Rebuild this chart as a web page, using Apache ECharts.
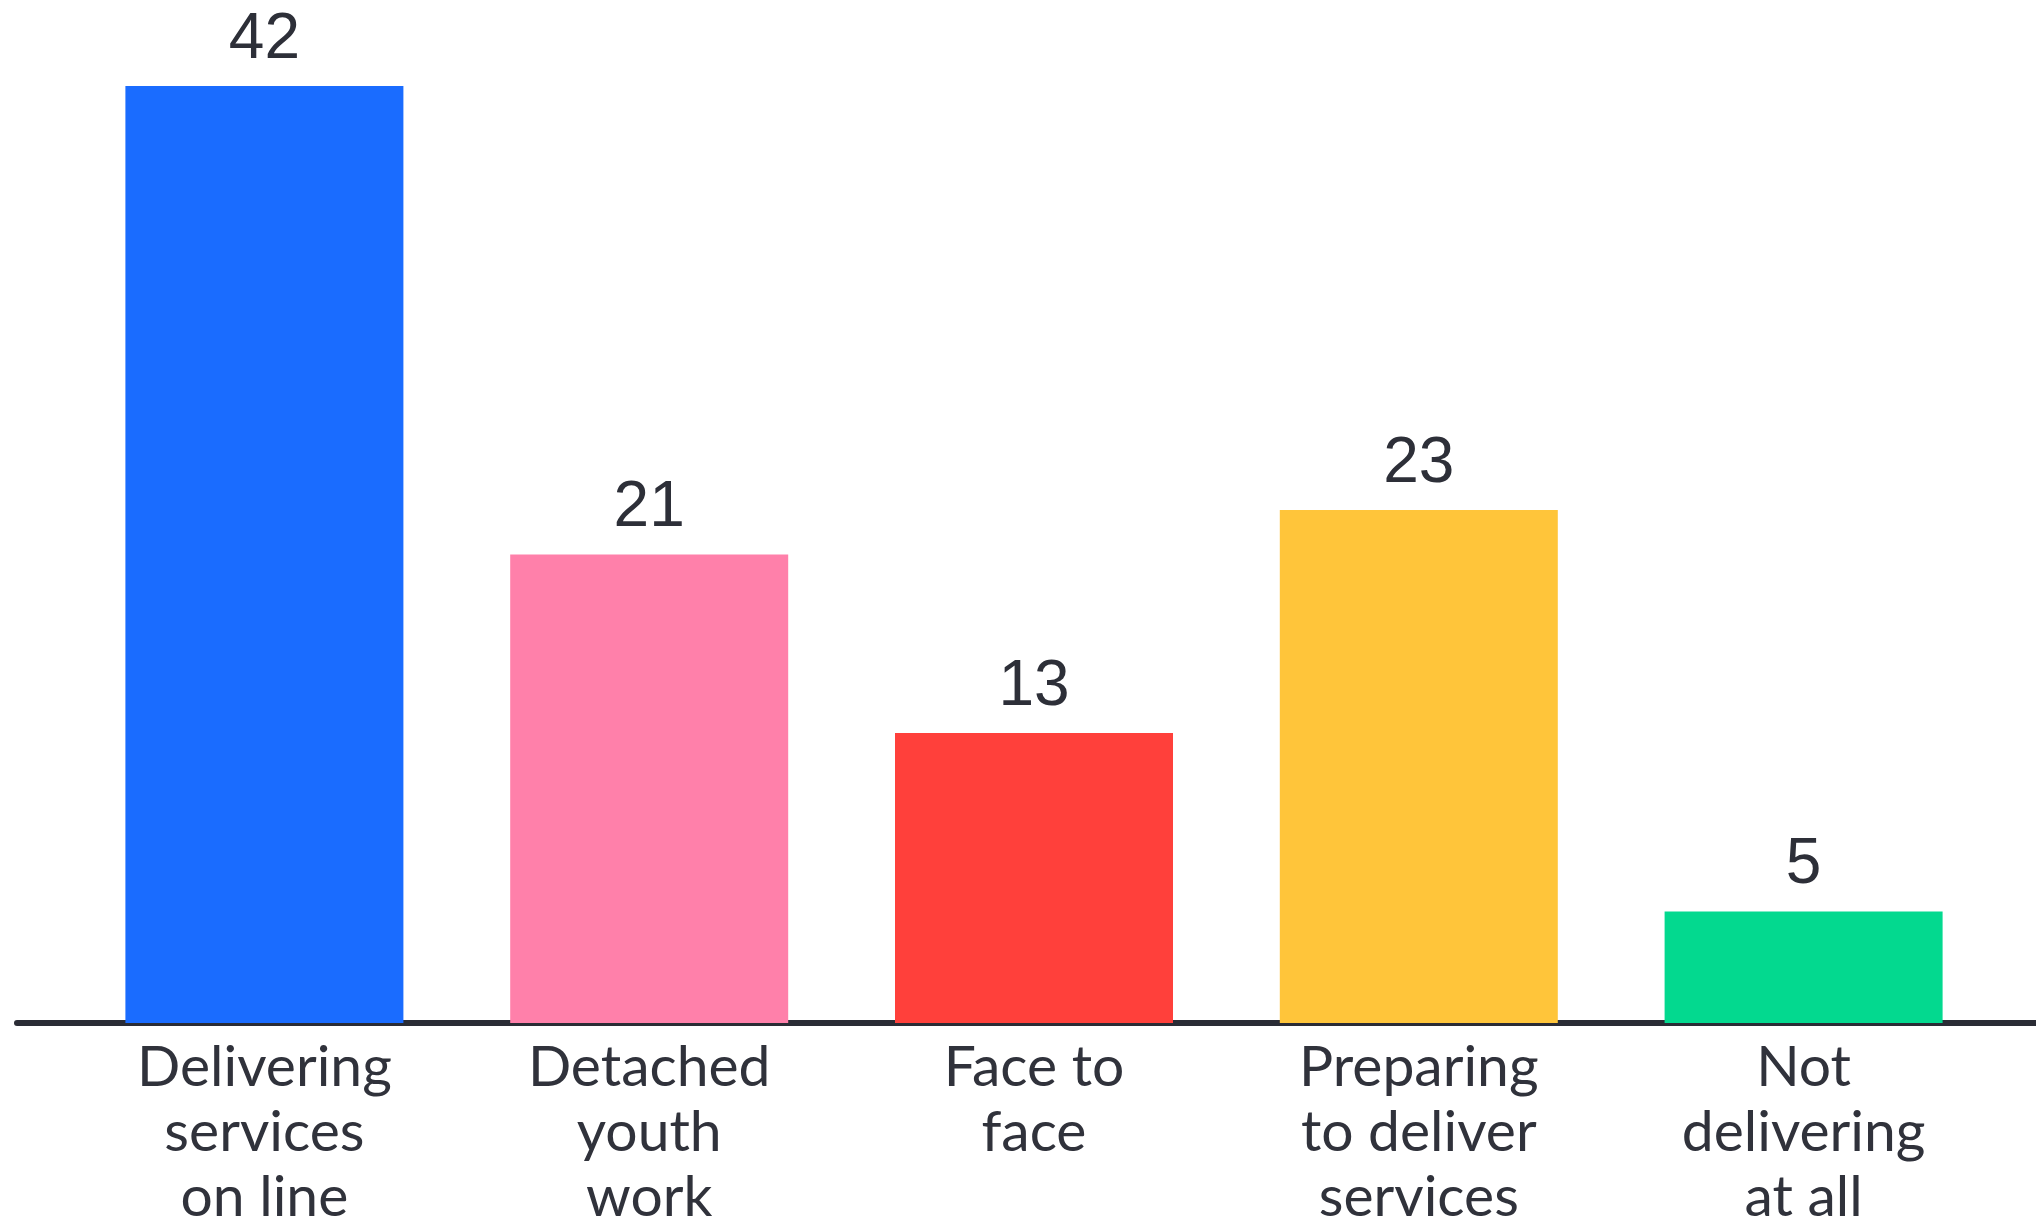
<!DOCTYPE html>
<html>
<head>
<meta charset="utf-8">
<script src="https://cdn.jsdelivr.net/npm/echarts@6/dist/echarts.min.js"></script>
<style>
html,body{margin:0;padding:0;background:#ffffff;}
#chart{width:2036px;height:1226px;}
</style>
</head>
<body>
<div id="chart"></div>
<script>
const categories = [
  "Delivering\nservices\non line",
  "Detached\nyouth\nwork",
  "Face to\nface",
  "Preparing\nto deliver\nservices",
  "Not\ndelivering\nat all"
];
const values = [42, 21, 13, 23, 5];
const barColors = ["#1a6cff", "#ff80aa", "#ff403b", "#ffc53a", "#03d98f"];

const chart = echarts.init(document.getElementById('chart'), null, {renderer: 'canvas'});
const option = {
  backgroundColor: '#ffffff',
  animation: false,
  grid: [
    {left: 72, right: 40, top: 86, bottom: 203, containLabel: false, outerBoundsMode: 'none'},
    {left: 17, right: 0, top: 86, bottom: 203, containLabel: false, outerBoundsMode: 'none'}
  ],
  xAxis: [
    {
      type: 'category',
      gridIndex: 0,
      data: categories,
      axisLine: {show: false},
      axisTick: {show: false},
      axisLabel: {
        interval: 0,
        margin: 12,
        fontFamily: 'Lato',
        fontSize: 57,
        lineHeight: 65,
        color: '#30323b'
      }
    },
    {
      type: 'value',
      gridIndex: 1,
      min: 0, max: 1,
      axisLine: {show: true, onZero: false, lineStyle: {color: '#2a2c35', width: 6}},
      axisTick: {show: false},
      axisLabel: {show: false},
      splitLine: {show: false}
    }
  ],
  yAxis: [
    {type: 'value', gridIndex: 0, min: 0, max: 42, show: false, splitLine: {show: false}},
    {type: 'value', gridIndex: 1, min: 0, max: 1, show: false, splitLine: {show: false}}
  ],
  series: [{
    type: 'bar',
    xAxisIndex: 0,
    yAxisIndex: 0,
    barWidth: 278,
    data: values.map((v, i) => ({value: v, itemStyle: {color: barColors[i]}})),
    label: {
      show: true,
      position: 'top',
      distance: 14,
      fontFamily: 'Liberation Sans',
      fontSize: 64,
      color: '#2d2f38'
    }
  }]
};
chart.setOption(option);
</script>
</body>
</html>
